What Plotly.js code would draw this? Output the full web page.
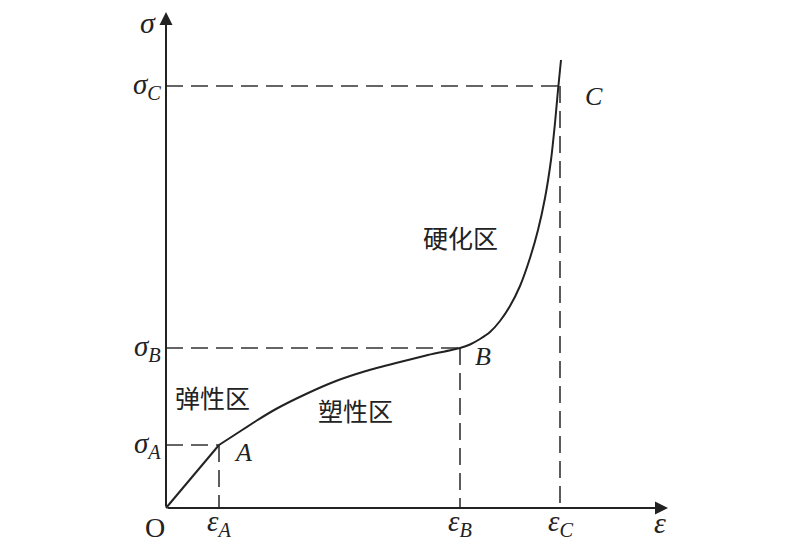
<!DOCTYPE html>
<html><head><meta charset="utf-8">
<script src="https://cdn.plot.ly/plotly-3.0.1.min.js"></script>
<style>html,body{margin:0;padding:0;background:#fff;}</style>
</head><body>
<div id="chart" style="width:800px;height:547px;"></div>
<script>
// Key strain / stress levels (arbitrary units)
const epsNames = ['A', 'B', 'C'];
const epsVals = [0.53, 2.94, 3.94];
const sigVals = [0.63, 1.60, 4.22];
// Elastic segment O-A
const elasticX = [0, 0.53];
const elasticY = [0, 0.63];
// Plastic + hardening segment A-B-C
const curveX = [0.53, 0.70, 0.90, 1.10, 1.40, 1.70, 2.00, 2.30, 2.60, 2.94, 3.04, 3.14, 3.24, 3.34, 3.44, 3.54, 3.64, 3.72, 3.79, 3.85, 3.89, 3.92, 3.95];
const curveY = [0.63, 0.74, 0.87, 0.99, 1.14, 1.27, 1.37, 1.45, 1.525, 1.60, 1.635, 1.69, 1.76, 1.87, 2.02, 2.22, 2.50, 2.78, 3.10, 3.48, 3.85, 4.18, 4.48];
const zoneLabels = ['弹性区', '塑性区', '硬化区'];
const zoneX = [0.46, 1.89, 2.94];
const zoneY = [1.11, 0.98, 2.71];
const axisEnd = {x: 5.02, y: 4.96};

const dashStyle = {color: '#333', width: 1.6, dash: '17px,8px'};
const traces = [];
for (let i = 0; i < 3; i++) {
  traces.push({x: [0, epsVals[i]], y: [sigVals[i], sigVals[i]], mode: 'lines', line: dashStyle, hoverinfo: 'skip'});
  traces.push({x: [epsVals[i], epsVals[i]], y: [sigVals[i], 0], mode: 'lines', line: dashStyle, hoverinfo: 'skip'});
}
traces.push({x: elasticX, y: elasticY, mode: 'lines', line: {color: '#222', width: 2}, hoverinfo: 'skip'});
traces.push({x: curveX, y: curveY, mode: 'lines', line: {color: '#222', width: 2, shape: 'spline', smoothing: 0.6}, hoverinfo: 'skip'});

const serif = 'Liberation Serif, Times New Roman, serif';
const ann = [];
// axes with arrowheads
ann.push({x: axisEnd.x, y: 0, ax: 0, ay: 0, xref: 'x', yref: 'y', axref: 'x', ayref: 'y', showarrow: true, arrowhead: 2, arrowsize: 1.3, arrowwidth: 2, arrowcolor: '#222', text: ''});
ann.push({x: 0, y: axisEnd.y, ax: 0, ay: 0, xref: 'x', yref: 'y', axref: 'x', ayref: 'y', showarrow: true, arrowhead: 2, arrowsize: 1.3, arrowwidth: 2, arrowcolor: '#222', text: ''});
// axis titles
ann.push({x: -0.18, y: 4.86, text: '<i>σ</i>', showarrow: false, font: {family: serif, size: 30, color: '#222'}});
ann.push({x: 4.94, y: -0.14, text: '<i>ε</i>', showarrow: false, font: {family: serif, size: 30, color: '#222'}});
ann.push({x: -0.11, y: -0.19, text: 'O', showarrow: false, font: {family: serif, size: 28, color: '#222'}});
for (let i = 0; i < 3; i++) {
  ann.push({x: -0.03, y: sigVals[i], xanchor: 'right', yanchor: 'middle', text: '<i>σ<sub>' + epsNames[i] + '</sub></i>', showarrow: false, font: {family: serif, size: 29, color: '#222'}});
  ann.push({x: epsVals[i], y: -0.15, xanchor: 'center', text: '<i>ε<sub>' + epsNames[i] + '</sub></i>', showarrow: false, font: {family: serif, size: 29, color: '#222'}});
}
// point labels
ann.push({x: epsVals[0] + 0.24, y: sigVals[0] - 0.07, text: '<i>A</i>', showarrow: false, font: {family: serif, size: 26, color: '#222'}});
ann.push({x: epsVals[1] + 0.23, y: sigVals[1] - 0.08, text: '<i>B</i>', showarrow: false, font: {family: serif, size: 26, color: '#222'}});
ann.push({x: epsVals[2] + 0.34, y: sigVals[2] - 0.1, text: '<i>C</i>', showarrow: false, font: {family: serif, size: 26, color: '#222'}});
for (let i = 0; i < 3; i++) {
  ann.push({x: zoneX[i], y: zoneY[i], text: zoneLabels[i], showarrow: false, font: {family: 'Noto Sans CJK SC', size: 25, color: '#222'}});
}

const layout = {
  width: 800, height: 547,
  margin: {l: 0, r: 0, t: 0, b: 0},
  paper_bgcolor: '#fff', plot_bgcolor: '#fff',
  showlegend: false,
  xaxis: {range: [-1.66, 6.34], visible: false, fixedrange: true},
  yaxis: {range: [-0.39, 5.08], visible: false, fixedrange: true},
  annotations: ann
};
Plotly.newPlot('chart', traces, layout, {displayModeBar: false, staticPlot: true});
</script>
</body></html>
